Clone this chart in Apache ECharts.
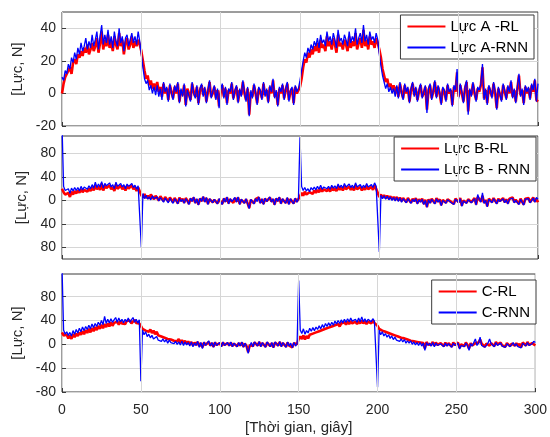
<!DOCTYPE html>
<html><head><meta charset="utf-8">
<script src="https://cdn.jsdelivr.net/npm/echarts@6/dist/echarts.min.js"></script>
<style>html,body{margin:0;padding:0;background:#fff}#c{width:550px;height:437px}</style>
</head><body><div id="c"></div>
<script>
// Tick labels
const xTicks = [0, 50, 100, 150, 200, 250, 300];
const yTicksA = [-20, 0, 20, 40];
const yTicksB = [-80, -40, 0, 40, 80];
const yTicksC = [-80, -40, 0, 40, 80];
const names = ['Lực A -RL', 'Lực A-RNN', 'Lực B-RL', 'Lực B - RNN', 'C-RL', 'C-RNN'];

// Values sampled every 1 s, t = 0..300
const forceA_RL = [
0,6,10,9,14,16,12,19,21,18,
24,22,26,23,28,25,30,24,27,31,
26,29,34,25,31,38,27,33,29,36,
28,32,26,35,30,27,37,29,33,24,
31,34,27,30,35,28,32,29,33,30,
26,20,14,9,11,5,8,3,6,2,
7,1,4,-2,6,0,3,-4,5,1,
-3,4,0,6,-5,2,-1,5,-7,3,
0,-4,6,1,-2,4,-6,2,5,-1,
3,-5,1,7,-2,0,4,-3,2,-8,
1,5,-2,3,-6,2,0,6,-3,1,
4,-5,2,-1,7,0,-4,3,-13,1,
-2,5,0,-6,3,1,-3,6,-1,2,
-5,4,0,8,-2,1,-7,3,0,5,
-3,2,6,-4,1,3,-6,4,0,2,
4,9,16,21,19,25,22,27,24,29,
26,31,25,33,28,30,26,35,29,32,
27,34,30,25,36,29,31,27,33,30,
26,35,28,32,29,37,27,31,34,28,
39,29,33,27,35,30,32,28,34,31,
27,22,15,11,7,9,4,6,2,5,
0,4,-2,6,1,-3,5,0,3,-5,
2,6,-1,3,-4,1,5,-2,0,4,
-10,2,5,-3,1,7,-2,4,0,-6,
3,1,-4,5,0,2,-7,4,1,13,
-2,5,0,-5,3,7,-11,2,-1,6,
0,-4,3,1,5,16,-3,2,-6,4,
1,-2,6,0,-9,3,2,-4,5,1,
-3,4,0,7,-2,2,-5,3,11,-1,
2,-6,4,0,3,-3,5,1,8,-4,
-5];
const forceA_RNN = [
10,8,14,12,18,15,22,19,25,21,
28,24,31,26,29,34,27,32,28,36,
29,33,38,27,35,42,30,36,31,39,
30,35,28,38,32,29,40,31,35,26,
34,36,29,33,37,31,35,30,38,32,
24,16,9,6,8,2,5,0,4,-1,
5,-2,3,-4,7,1,4,-5,6,0,
-4,5,1,7,-6,3,-2,6,-8,2,
1,-5,7,0,-3,5,-7,3,6,-2,
4,-6,2,8,-3,1,5,-4,3,-9,
2,6,-3,4,-7,3,1,7,-4,2,
5,-6,3,-2,8,1,-5,4,-14,2,
-3,6,1,-7,4,2,-4,7,-2,3,
-6,5,1,9,-3,2,-8,4,1,6,
-4,3,7,-5,2,4,-7,5,1,3,
8,14,20,25,22,28,25,30,27,32,
29,34,28,36,31,33,29,38,32,35,
30,37,33,28,39,32,34,30,36,33,
29,38,31,35,32,40,30,34,37,31,
42,32,36,30,38,33,35,31,37,33,
24,17,11,7,3,6,1,4,0,3,
-2,5,-3,7,0,-4,6,1,4,-6,
3,7,-2,4,-5,2,6,-3,1,5,
-12,3,6,-4,2,8,-3,5,1,-7,
4,2,-5,6,1,3,-8,5,2,15,
-3,6,1,-6,4,8,-13,3,-2,7,
1,-5,4,2,6,18,-4,3,-7,5,
2,-3,7,1,-10,4,3,-5,6,2,
-4,5,1,8,-3,3,-6,4,12,-2,
3,-7,5,1,4,-4,6,2,9,-5,
6];
const forceB_RL = [
20,14,10,8,13,6,15,10,16,12,
17,13,19,14,18,21,15,20,16,23,
17,26,19,24,18,29,17,25,21,18,
26,19,23,16,27,20,18,25,19,24,
17,25,20,18,26,19,23,16,22,20,
9,5,11,4,8,3,10,6,2,8,
6,0,7,3,-1,6,2,-2,5,1,
-3,4,0,-5,5,-1,3,-4,4,0,
-6,3,-1,5,-4,2,-7,3,-1,6,
-2,4,-6,2,5,-3,1,4,-5,2,
-1,-6,3,-2,5,-5,2,-1,-4,4,
-2,5,-6,1,3,-4,2,-5,-13,1,
3,-5,2,-1,5,-4,2,-6,3,-1,
-4,5,-2,2,-7,3,-1,5,-5,2,
0,-4,4,-6,2,-1,-5,3,-2,1,
7,13,8,15,10,9,14,16,11,17,
13,18,14,21,15,19,22,16,20,15,
22,17,21,16,24,18,22,17,25,19,
16,24,18,22,17,26,19,18,23,17,
22,18,25,19,17,23,18,26,20,21,
6,10,5,9,4,8,3,7,2,6,
1,6,0,5,-1,4,1,-3,4,0,
-4,3,-1,4,-5,2,-2,3,-6,1,
-11,2,-4,3,-1,-5,4,-2,2,-8,
1,3,-4,2,4,-2,0,-6,3,1,
-3,4,-9,0,3,-4,2,5,-3,0,
4,-7,6,3,-2,8,-4,1,-10,3,
0,-3,4,1,-5,3,-1,-2,4,-3,
2,-5,3,0,5,-3,1,4,-6,3,
0,-7,3,1,4,-3,0,5,-2,3,
-3];
const forceB_RNN = [
130,24,17,14,20,12,21,16,22,17,
22,16,24,18,23,26,19,25,20,27,
21,31,22,28,23,32,21,29,25,22,
30,23,27,20,31,24,22,29,23,27,
20,28,24,21,29,22,26,19,25,22,
-80,12,3,9,2,6,1,8,3,0,
6,-1,5,2,-3,4,0,-4,4,-1,
-5,3,-1,-6,4,-2,2,-5,3,-1,
-7,4,-2,6,-5,3,-8,4,-2,7,
-3,5,-7,3,6,-4,2,5,-6,3,
-2,-7,4,-3,6,-6,3,-2,-5,5,
-3,6,-7,2,4,-5,3,-6,-14,2,
4,-6,3,-2,6,-5,3,-7,4,-2,
-5,6,-3,3,-8,4,-2,6,-6,3,
-1,-5,5,-7,3,-2,-6,4,-3,2,
108,24,17,22,16,20,15,22,18,23,
18,24,19,26,19,23,26,20,24,19,
26,21,25,20,28,22,26,21,29,23,
20,28,22,26,21,30,23,22,27,21,
26,22,29,23,21,27,22,30,24,25,
-88,9,3,8,2,7,1,6,0,5,
-1,5,-2,4,-3,3,0,-4,3,-1,
-5,2,-2,3,-6,1,-3,2,-7,0,
-12,1,-5,2,-2,-6,3,-3,1,-9,
0,2,-5,1,3,-3,-1,-7,2,0,
-4,3,-10,-1,2,-5,1,4,-4,-1,
3,-8,10,2,-3,13,-5,0,-11,2,
-1,-4,3,0,-6,2,-2,-3,3,-4,
1,-6,2,-1,4,-4,0,3,-7,2,
-1,-8,2,0,3,-4,-1,4,-3,5,
2];
const forceC_RL = [
20,15,12,16,10,15,9,17,12,18,
14,20,16,22,17,24,19,26,20,27,
22,29,24,31,26,33,27,34,29,35,
30,37,31,36,34,38,33,39,35,37,
34,39,36,40,35,38,41,36,39,35,
31,26,28,23,26,21,25,19,23,17,
21,15,18,13,16,11,14,9,12,8,
11,6,9,5,9,3,7,2,6,1,
5,0,4,-2,3,-1,4,-3,2,-5,
3,-1,-3,4,-2,2,-4,3,-1,-2,
2,-3,3,-1,-4,2,-2,3,-3,1,
4,-3,2,-2,3,-4,1,-3,-13,-1,
2,-3,3,0,-2,4,-3,2,0,-4,
3,0,-3,2,-5,3,0,-2,4,-3,
2,0,-4,3,-2,1,-5,2,-1,0,
9,13,9,15,8,14,10,16,13,18,
15,20,17,22,19,24,21,26,23,28,
25,30,27,32,29,34,30,35,32,37,
33,38,34,39,35,33,38,34,39,35,
40,35,39,34,38,41,35,40,36,39,
31,26,28,23,25,21,24,19,22,17,
20,15,17,13,16,11,14,10,12,8,
11,6,9,5,8,4,7,3,6,2,
-7,4,0,3,-1,4,-2,3,-1,-3,
2,-1,-3,3,-2,2,-1,-4,3,-1,
-2,3,-6,0,2,-3,3,-1,-7,2,
-2,-5,2,-1,3,8,1,2,-4,1,
3,-2,2,-1,-3,4,0,-2,3,-2,
1,-4,2,3,-3,1,4,-2,2,-3,
1,-5,3,2,-2,4,-1,-3,2,3,
-2];
const forceC_RNN = [
130,24,17,21,15,20,14,23,17,25,
19,27,21,29,23,30,25,32,26,34,
28,35,30,37,32,40,33,47,35,42,
36,43,37,41,45,37,44,38,42,36,
42,38,44,37,41,45,37,42,36,41,
-62,24,16,21,13,17,11,15,9,12,
13,7,10,5,9,4,8,2,7,3,
6,1,5,0,4,-1,5,-2,4,-1,
3,-3,4,-4,2,-2,5,-5,3,-7,
4,-2,-4,6,-3,3,-5,4,-2,-3,
3,-4,4,-2,-5,3,-3,4,-4,2,
5,-4,3,-3,4,-5,2,-4,-15,-3,
3,-4,4,1,-3,5,-4,3,1,-5,
4,1,-4,3,-6,4,1,-3,5,-4,
3,1,-5,4,-3,2,-6,3,-3,1,
107,24,18,26,17,23,19,27,22,28,
23,29,25,31,26,33,28,35,30,36,
31,37,32,39,34,40,35,41,36,42,
37,43,38,44,39,36,42,37,44,38,
46,38,43,37,42,45,38,43,39,42,
-72,24,16,21,14,18,12,16,10,14,
8,12,7,10,5,9,4,8,2,6,
2,6,0,4,-1,3,-2,3,-3,2,
-10,3,-2,2,-3,3,-4,2,-2,-5,
1,-2,-4,2,-3,1,-2,-5,2,-2,
-3,2,-8,-2,1,-4,2,-2,-10,1,
-3,-6,9,-2,2,12,-2,1,-5,-2,
2,9,1,-2,-4,3,-2,-3,2,-3,
-2,-5,1,2,-4,-2,3,-3,1,-4,
-2,-6,2,1,-3,3,-2,-4,1,5,
3];

const time = forceA_RL.map((_, i) => i); // sampling instants, 1 s

const font = "'Liberation Sans', Arial, Helvetica, sans-serif";
const txt = '#262626';
const gridColor = '#d6d6d6';
const pair = arr => time.map((t, i) => [t, arr[i]]);

const grids = [
  {left: 62, right: 12, top: 12, height: 114},
  {left: 62, right: 12, top: 136, height: 123},
  {left: 62, right: 12, top: 274, height: 118}
].map(g => Object.assign(g, {show: true, borderColor: '#3a3a3a', borderWidth: 1, backgroundColor: 'transparent'}));

const xAxes = [0, 1, 2].map(i => ({
  type: 'value', gridIndex: i, min: xTicks[0], max: xTicks[xTicks.length - 1], interval: xTicks[1] - xTicks[0],
  axisLine: {show: false, onZero: false},
  axisTick: {show: true, inside: true, length: 4, lineStyle: {color: '#3a3a3a'}},
  axisLabel: {show: i === 2, color: txt, fontSize: 14, fontFamily: font, margin: 11},
  splitLine: {show: true, lineStyle: {color: gridColor, width: 1}},
  name: i === 2 ? '[Thời gian, giây]' : '',
  nameLocation: 'middle', nameGap: 28,
  nameTextStyle: {color: txt, fontSize: 15, fontFamily: font}
}));

const yCfg = [
  {min: -20, max: 50, ticks: yTicksA, fmt: v => String(v)},
  {min: -100, max: 110, ticks: yTicksB, fmt: v => String(Math.abs(v))},
  {min: -80, max: 118, ticks: yTicksC, fmt: v => String(v)}
];
const yAxes = yCfg.map((c, i) => ({
  type: 'value', gridIndex: i, min: c.min, max: c.max,
  axisLine: {show: false, onZero: false},
  axisTick: {show: true, inside: true, length: 4, lineStyle: {color: '#3a3a3a'}, customValues: c.ticks},
  axisLabel: {customValues: c.ticks, formatter: c.fmt, color: txt, fontSize: 14, fontFamily: font, margin: 6},
  splitLine: {show: true, lineStyle: {color: gridColor, width: 1}},
  name: '[Lực, N]', nameLocation: 'middle', nameGap: 24,
  nameTextStyle: {color: txt, fontSize: 15, fontFamily: font}
}));

const seriesArrays = [forceA_RL, forceA_RNN, forceB_RL, forceB_RNN, forceC_RL, forceC_RNN];
const series = seriesArrays.map((arr, k) => {
  const isRL = k % 2 === 0;
  const gi = Math.floor(k / 2);
  return {
    type: 'line', name: names[k], xAxisIndex: gi, yAxisIndex: gi,
    data: pair(arr), showSymbol: false, symbol: 'none', clip: true,
    lineStyle: {color: isRL ? '#ff0000' : '#0000ff', width: isRL ? 2.6 : 1.3},
    itemStyle: {color: isRL ? '#ff0000' : '#0000ff'},
    z: isRL ? 3 : 4
  };
});
// vertical grid lines at the x ticks (helper, drawn beneath the data)
[0, 1, 2].forEach(gi => series.push({
  type: 'line', name: 'grid' + gi, xAxisIndex: gi, yAxisIndex: gi, data: [], z: 1, silent: true,
  markLine: {
    silent: true, symbol: 'none', animation: false, label: {show: false},
    lineStyle: {color: gridColor, width: 1, type: 'solid'},
    emphasis: {disabled: true},
    data: xTicks.slice(1, -1).map(v => ({xAxis: v}))
  }
}));

const legendBase = {
  orient: 'vertical', backgroundColor: '#ffffff', borderColor: '#3a3a3a', borderWidth: 1,
  padding: [4, 6, 4, 6], itemWidth: 38, itemHeight: 12, itemGap: 6,
  itemStyle: {opacity: 0},
  textStyle: {color: '#000', fontSize: 15, fontFamily: font}
};
const legends = [
  Object.assign({}, legendBase, {data: [names[0], names[1]], right: 16, top: 15}),
  Object.assign({}, legendBase, {data: [names[2], names[3]], right: 14, top: 137}),
  Object.assign({}, legendBase, {data: [names[4], names[5]], right: 14, top: 280})
];

const chart = echarts.init(document.getElementById('c'), null, {renderer: 'canvas'});
chart.setOption({
  animation: false,
  backgroundColor: '#ffffff',
  grid: grids, xAxis: xAxes, yAxis: yAxes, legend: legends, series: series
});
</script></body></html>
